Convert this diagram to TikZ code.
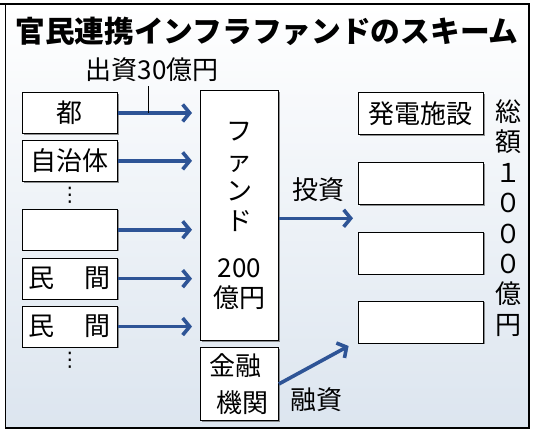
\documentclass[tikz,border=0pt]{standalone}
\usepackage{fontspec}
\setmainfont{Noto Sans CJK JP}
\newfontfamily\symfont{DejaVu Sans}
\usetikzlibrary{arrows.meta, positioning, calc, shadows}
\definecolor{flowblue}{RGB}{46,84,150}
\definecolor{panelblue}{RGB}{220,229,239}
\newcommand{\jp}[2]{\fontsize{#1}{#2}\selectfont}
\tikzset{
  ebox/.style={draw, fill=white, line width=0.9pt, inner sep=0pt,
               minimum width=95pt, minimum height=41pt, font=\jp{26}{30},
               drop shadow={shadow xshift=1.2pt, shadow yshift=-1.2pt,
                            fill=black!70, opacity=0.6}},
  pbox/.style={ebox, minimum width=125pt, minimum height=42pt},
  farr/.style={-{Straight Barb[length=7pt, width=17pt]}, line width=3.6pt, flowblue},
  lbl/.style={inner sep=0pt, font=\jp{26}{30}, text=black},
  vdot/.style={inner sep=0pt, font=\symfont\jp{20}{20}},
}
\begin{document}
\begin{tikzpicture}[x=1pt, y=-1pt]
\useasboundingbox (0,0) rectangle (537,437);
% ---- panel and frame ----
\fill[top color=white, bottom color=panelblue] (5,4) rectangle (529,428);
\draw[line width=1.5pt] (0,4) -- (530,4);
\draw[line width=0.8pt] (5,4) -- (5,428);
\draw[line width=1.8pt] (5,428) -- (529,428) -- (529,4);
\node[inner sep=0pt, font=\jp{29.7}{34}\bfseries] (title) at (267,31)
  {官民連携インフラファンドのスキーム};
% ---- investors (left column) ----
\node[ebox, anchor=north west] (tokyo) at (22,92) {都};
\node[ebox, below=6pt of tokyo] (jichi) {自治体};
\node[ebox, below=27pt of jichi] (blank) {};
\node[ebox, below=7pt of blank] (min1) {民\hspace{30pt}間};
\node[ebox, below=6pt of min1] (min2) {民\hspace{30pt}間};
\node[vdot] (dots1) at ($(jichi.south)!0.5!(blank.north)$) {⋮};
\node[vdot] (dots2) at ($(min2.south)+(0,13)$) {⋮};
\node[lbl] (cap) at (152,70) {出資30億円};
% ---- fund and bank ----
\node[ebox, anchor=north west, minimum width=78pt, minimum height=250pt,
      align=center, font=\jp{26}{30}] (fund) at (200,90)
  {フ\\ァ\\ン\\ド\\[17pt]200\\億円};
\node[ebox, anchor=north west, minimum width=78pt, minimum height=73pt,
      align=left] (kinyu) at (200,347)
  {金融\\[7pt]\hspace*{7pt}機関};
% ---- facilities (right column) ----
\node[pbox, anchor=north west] (plant1) at (358,92) {発電施設};
\node[pbox, below=27pt of plant1] (plant2) {};
\node[pbox, below=27pt of plant2] (plant3) {};
\node[pbox, below=26pt of plant3] (plant4) {};
\coordinate (gap) at ($(plant2.south west)!0.5!(plant3.north west)$);
\node[lbl, align=center, font=\jp{26}{30.4}] (total) at (508,218)
  {総\\額\\１\\０\\０\\０\\億\\円};
% ---- flows ----
\foreach \s in {tokyo, jichi, blank, min1, min2}
  \draw[farr, shorten >=8pt] (\s.east) -- (fund.west |- \s.east);
\draw[line width=0.7pt, shorten <=4pt] ([xshift=-4pt]cap.south)
  -- ([xshift=-4pt]cap.south |- tokyo.east);
\draw[farr, shorten >=5pt] (fund.east |- gap) --
  node[lbl, midway, above=15pt] (toshi) {投資} (gap);
\draw[farr, shorten >=5pt] (kinyu.east) -- ([xshift=-5pt]plant4.south west);
\node[lbl, anchor=west] (yushi) at (290,400) {融資};
\end{tikzpicture}
\end{document}
